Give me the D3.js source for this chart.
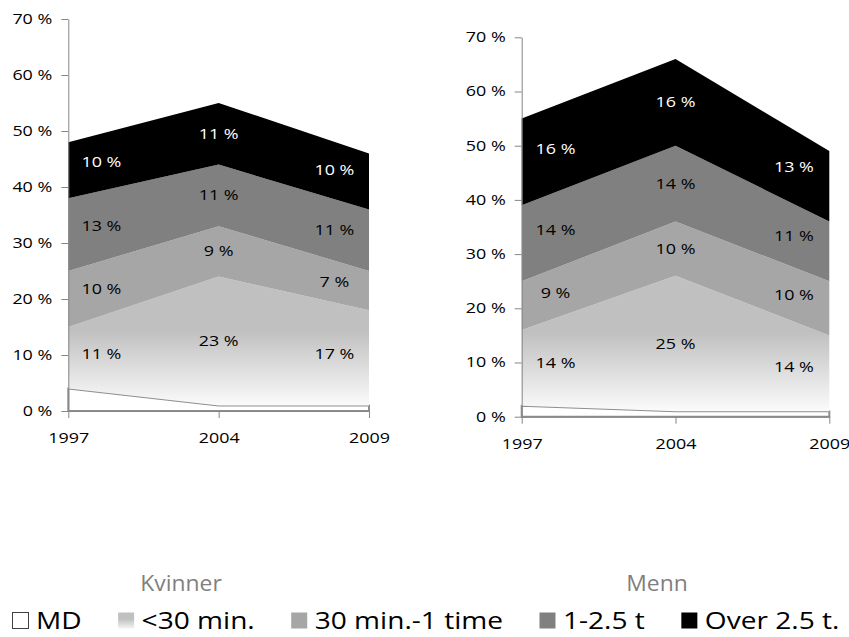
<!DOCTYPE html>
<html>
<head>
<meta charset="utf-8">
<script src="https://cdn.jsdelivr.net/npm/d3@7"></script>
<style>
  html, body { margin: 0; padding: 0; background: #fff; }
  svg { display: block; }
  text { font-family: "Open Sans", "Liberation Sans", sans-serif; }
</style>
</head>
<body>
<script>
// ---------- data ----------
const years = ["1997", "2004", "2009"];
const seriesNames = ["MD", "<30 min.", "30 min.-1 time", "1-2.5 t", "Over 2.5 t."];
const yTicks = [0, 10, 20, 30, 40, 50, 60, 70];

const kvinnerMD       = [4, 1, 1];
const kvinnerUnder30  = [11, 23, 17];
const kvinner30to60   = [10, 9, 7];
const kvinner1to2_5   = [13, 11, 11];
const kvinnerOver2_5  = [10, 11, 10];

const mennMD          = [2, 1, 1];
const mennUnder30     = [14, 25, 14];
const menn30to60      = [9, 10, 10];
const menn1to2_5      = [14, 14, 11];
const mennOver2_5     = [16, 16, 13];

const chartTitles = ["Kvinner", "Menn"];

// ---------- styling ----------
const W = 849, H = 637;
const fills = ["#ffffff", null, "#a6a6a6", "#808080", "#000000"];
const labelColors = ["#000", "#000", "#000", "#000", "#fff"];
const axisColor = "#868686";
const SX = 1.28;      // horizontal stretch of small text
const LSX = 1.17;     // horizontal stretch of legend text

const svg = d3.select("body").append("svg")
  .attr("width", W).attr("height", H)
  .attr("viewBox", `0 0 ${W} ${H}`);
svg.append("rect").attr("width", W).attr("height", H).attr("fill", "#fff");
const defs = svg.append("defs");

const charts = [
  { title: chartTitles[0], values: [kvinnerMD, kvinnerUnder30, kvinner30to60, kvinner1to2_5, kvinnerOver2_5],
    x0: 68.3, x1: 369, yb: 411, yt: 19, titleX: 181 },
  { title: chartTitles[1], values: [mennMD, mennUnder30, menn30to60, menn1to2_5, mennOver2_5],
    x0: 521.7, x1: 829.3, yb: 416.7, yt: 37.3, titleX: 657 }
];

charts.forEach((cfg, ci) => {
  const x = d3.scalePoint().domain(years).range([cfg.x0, cfg.x1]);
  const y = d3.scaleLinear().domain([0, 70]).range([cfg.yb, cfg.yt]);

  const rows = years.map((yr, i) => {
    const o = { year: yr };
    seriesNames.forEach((s, j) => o[s] = cfg.values[j][i]);
    return o;
  });
  const stacked = d3.stack().keys(seriesNames)(rows);

  // gradient for "<30 min."
  const gid = "grad" + ci;
  const topMax = d3.max(stacked[1], d => d[1]);
  const grad = defs.append("linearGradient").attr("id", gid)
    .attr("gradientUnits", "userSpaceOnUse")
    .attr("x1", 0).attr("x2", 0)
    .attr("y1", y(topMax)).attr("y2", y(0));
  grad.append("stop").attr("offset", "0%").attr("stop-color", "#c0c0c0");
  grad.append("stop").attr("offset", "40%").attr("stop-color", "#c0c0c0");
  grad.append("stop").attr("offset", "100%").attr("stop-color", "#ffffff");

  const g = svg.append("g");
  const area = d3.area()
    .x(d => x(d.data.year))
    .y0(d => y(d[0]))
    .y1(d => y(d[1]));

  g.selectAll("path.band").data(stacked).join("path")
    .attr("class", "band")
    .attr("d", area)
    .attr("fill", (d, i) => i === 1 ? `url(#${gid})` : fills[i])
    .attr("stroke", (d, i) => i === 0 ? "#8e8e8e" : "none")
    .attr("stroke-width", 2)
    .attr("stroke-linejoin", "miter");

  // axes
  const yAxis = d3.axisLeft(y).tickValues(yTicks).tickSize(7).tickSizeOuter(0)
    .tickFormat(d => d + " %");
  const yg = g.append("g").attr("transform", `translate(${cfg.x0},0)`).call(yAxis);
  yg.select(".domain").attr("stroke", axisColor);
  yg.selectAll(".tick line").attr("stroke", axisColor);
  yg.selectAll(".tick text")
    .attr("font-size", 14).attr("fill", "#000")
    .attr("font-family", "Open Sans")
    .attr("x", -16 / SX)
    .attr("transform", `scale(${SX},1)`);

  const xAxis = d3.axisBottom(x).tickSize(7).tickSizeOuter(0).tickPadding(15);
  const xg = g.append("g").attr("transform", `translate(0,${cfg.yb})`).call(xAxis);
  xg.select(".domain").attr("stroke", axisColor);
  xg.selectAll(".tick line").attr("stroke", axisColor);
  xg.selectAll(".tick text")
    .attr("font-size", 14).attr("fill", "#000")
    .attr("font-family", "Open Sans")
    .attr("transform", `scale(${SX},1)`);

  // data labels
  const n = years.length;
  stacked.forEach((layer, j) => {
    if (j === 0) return;
    layer.forEach((d, i) => {
      let nb = i, t = 0;
      if (i === 0) { nb = 1; t = 0.22; }
      else if (i === n - 1) { nb = n - 2; t = 0.23; }
      const e = layer[nb];
      const px = x(d.data.year) + t * (x(e.data.year) - x(d.data.year));
      const lo = d[0] + t * (e[0] - d[0]);
      const hi = d[1] + t * (e[1] - d[1]);
      const py = y((lo + hi) / 2);
      g.append("text")
        .attr("transform", `translate(${px},${py}) scale(${SX},1)`)
        .attr("text-anchor", "middle")
        .attr("dy", "0.36em")
        .attr("font-size", 14)
        .attr("fill", labelColors[j])
        .text(cfg.values[j][i] + " %");
    });
  });

  // chart title (below)
  svg.append("text")
    .attr("transform", `translate(${cfg.titleX},591) scale(1.04,1)`)
    .attr("text-anchor", "middle")
    .attr("font-size", 22)
    .attr("fill", "#7f7f7f")
    .text(cfg.title);
});

// ---------- legend ----------
const legendGradId = "legGrad";
const lg = defs.append("linearGradient").attr("id", legendGradId)
  .attr("x1", 0).attr("x2", 0).attr("y1", 0).attr("y2", 1);
lg.append("stop").attr("offset", "0%").attr("stop-color", "#c0c0c0");
lg.append("stop").attr("offset", "40%").attr("stop-color", "#c0c0c0");
lg.append("stop").attr("offset", "100%").attr("stop-color", "#f4f4f4");

const legend = svg.append("g");
let cx = 12;
const baseY = 629, sq = 17;
seriesNames.forEach((name, i) => {
  const r = legend.append("rect")
    .attr("x", cx + 0.5).attr("y", baseY - sq + 0.5)
    .attr("width", sq - 1).attr("height", sq - 1);
  if (i === 0) r.attr("fill", "#fff").attr("stroke", "#404040").attr("stroke-width", 1);
  else if (i === 1) r.attr("fill", `url(#${legendGradId})`).attr("stroke", "none");
  else r.attr("fill", fills[i]).attr("stroke", "none");
  const tx = cx + sq + 7;
  const t = legend.append("text")
    .attr("transform", `translate(${tx},${baseY}) scale(${LSX},1)`)
    .attr("font-size", 24)
    .attr("fill", "#000")
    .text(name);
  const w = t.node().getComputedTextLength() * LSX;
  cx = tx + w + 36;
});
</script>
</body>
</html>
